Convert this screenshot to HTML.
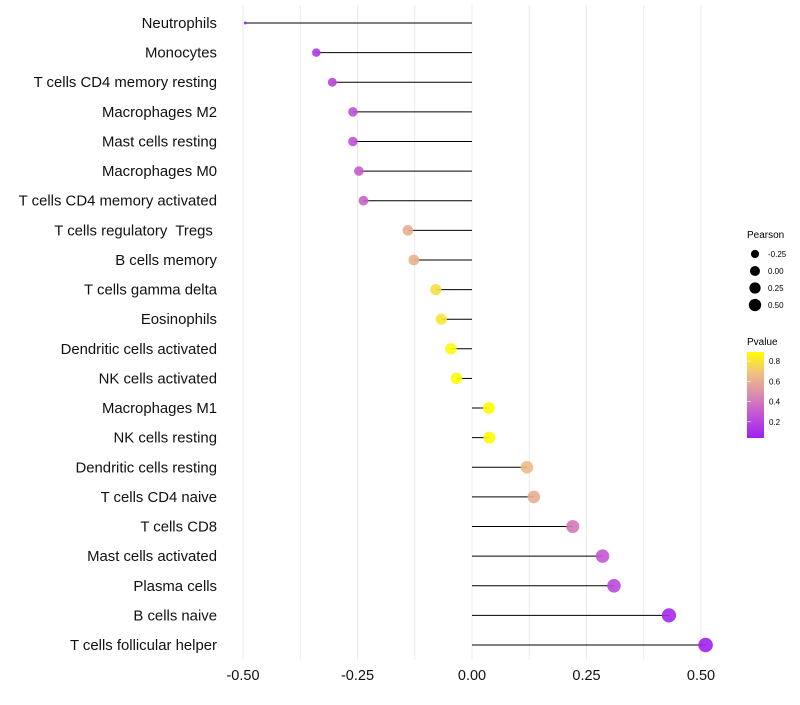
<!DOCTYPE html>
<html><head><meta charset="utf-8"><style>
body{margin:0;background:#fff;font-family:"Liberation Sans",sans-serif}
text{white-space:pre}
</style></head><body>
<svg id="chart" width="800" height="700" xmlns="http://www.w3.org/2000/svg" font-family="Liberation Sans, sans-serif">
<defs><linearGradient id="pg" x1="0" y1="1" x2="0" y2="0">
<stop offset="0" stop-color="#a020f0"/><stop offset="0.3" stop-color="#c55bd0"/><stop offset="0.5" stop-color="#d98bb0"/><stop offset="0.75" stop-color="#f0c080"/><stop offset="1" stop-color="#ffff00"/></linearGradient></defs>
<g id="grid"></g><g id="marks"></g><g id="labels"></g>
<g font-size="9">
<text x="747" y="238" font-size="10">Pearson</text>
<g id="sizeLeg"></g>
<text x="747" y="345" font-size="10">Pvalue</text>
<rect x="747" y="352" width="17" height="86" fill="url(#pg)"/>
<g id="cbTicks"></g>
</g>
</svg>
<script>
const categories=["Neutrophils","Monocytes","T cells CD4 memory resting","Macrophages M2","Mast cells resting","Macrophages M0","T cells CD4 memory activated","T cells regulatory  Tregs ","B cells memory","T cells gamma delta","Eosinophils","Dendritic cells activated","NK cells activated","Macrophages M1","NK cells resting","Dendritic cells resting","T cells CD4 naive","T cells CD8","Mast cells activated","Plasma cells","B cells naive","T cells follicular helper"];
const pearson=[-0.495,-0.34,-0.305,-0.26,-0.26,-0.247,-0.237,-0.14,-0.127,-0.079,-0.067,-0.046,-0.034,0.037,0.038,0.12,0.135,0.22,0.285,0.31,0.43,0.51];
const pvalue=[0.03,0.15,0.2,0.25,0.25,0.3,0.32,0.6,0.62,0.78,0.8,0.87,0.88,0.88,0.88,0.65,0.6,0.4,0.28,0.22,0.08,0.05];
const xTicks=[-0.5,-0.25,0,0.25,0.5];
const xTickLabels=["-0.50","-0.25","0.00","0.25","0.50"];
const sizeLegVals=[-0.25,0,0.25,0.5];
const cbVals=[0.2,0.4,0.6,0.8];
const NS="http://www.w3.org/2000/svg";
const x=v=>472+v*458;
const y=i=>23+i*(622/21);
const r=v=>1.5+5.8*Math.pow(Math.max(0,(v+0.495)/1.005),0.4);
const pMin=0.04,pMax=0.89;
const stops=[[0,[160,32,240]],[0.3,[197,91,208]],[0.5,[217,139,176]],[0.75,[240,192,128]],[1,[255,255,0]]];
function col(p){let t=Math.min(1,Math.max(0,(p-pMin)/(pMax-pMin)));for(let k=1;k<stops.length;k++){if(t<=stops[k][0]){const a=stops[k-1],b=stops[k];const u=(t-a[0])/(b[0]-a[0]);return `rgb(${a[1].map((c,j)=>Math.round(c+(b[1][j]-c)*u)).join(",")})`;}}return "rgb(255,255,0)";}
function mk(tag,at,parent,txt){const e=document.createElementNS(NS,tag);for(const k in at)e.setAttribute(k,at[k]);if(txt!==undefined)e.textContent=txt;document.getElementById(parent).appendChild(e);return e;}
for(let v=-0.5;v<=0.5001;v+=0.125){const g=mk("line",{x1:x(v),x2:x(v),y1:5,y2:660,stroke:"#ebebeb","stroke-width":1},"grid");

}
xTicks.forEach((v,i)=>{const t=mk("text",{x:x(v),y:680,"font-size":14.5,"text-anchor":"middle",fill:"#111"},"labels",xTickLabels[i]);

});
categories.forEach((c,i)=>{
const t=mk("text",{x:217,y:y(i)+5,"font-size":14.9,"text-anchor":"end",fill:"#111"},"labels",c);


const l=mk("line",{x1:x(0),x2:x(pearson[i]),y1:y(i),y2:y(i),stroke:"#000","stroke-width":1},"marks");


const d=mk("circle",{cx:x(pearson[i]),cy:y(i),r:r(pearson[i]),fill:col(pvalue[i]),"fill-opacity":0.9},"marks");


});
sizeLegVals.forEach((v,i)=>{const cy=254+i*17;
const d=mk("circle",{cx:755,cy:cy,r:r(v)*0.85,fill:"#000"},"sizeLeg");


const t=mk("text",{x:768,y:cy+3,"font-size":8},"sizeLeg",v.toFixed(2));

});
cbVals.forEach(v=>{const cy=352+86*(1-(v-pMin)/(pMax-pMin));
const t=mk("text",{x:769,y:cy+3,"font-size":8},"cbTicks",v.toFixed(1));


const l=mk("line",{x1:747,x2:751,y1:cy,y2:cy,stroke:"#fff","stroke-width":0.6},"cbTicks");

});
</script>
</body></html>
